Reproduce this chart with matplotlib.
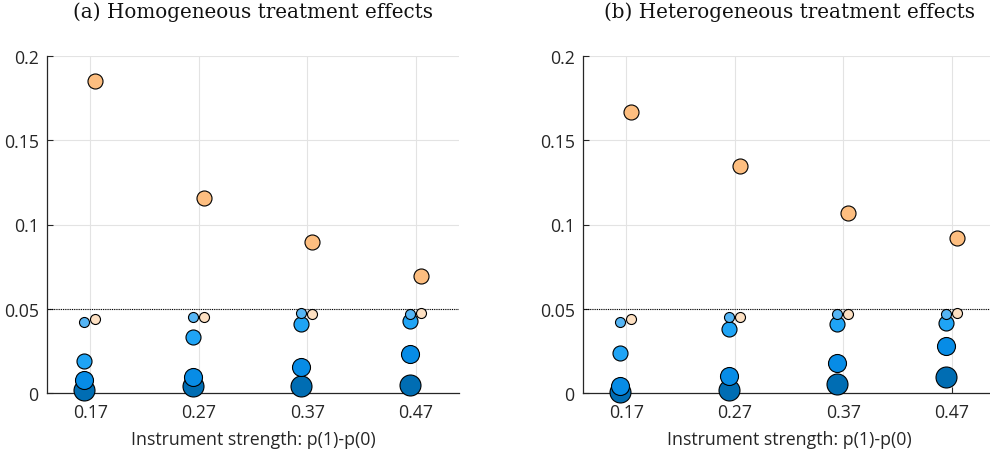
import numpy as np
import matplotlib.pyplot as plt

# instrument strength p(1)-p(0)
strength = [0.17, 0.27, 0.37, 0.47]
ytick_vals = [0, 0.05, 0.1, 0.15, 0.2]
ytick_labels = ["0", "0.05", "0.1", "0.15", "0.2"]

# panel (a) homogeneous effects, rejection rates per method
hom_dark = [0.002, 0.004, 0.0044, 0.0049]
hom_large = [0.0077, 0.0097, 0.0153, 0.0232]
hom_mid = [0.0189, 0.033, 0.0407, 0.043]
hom_small = [0.042, 0.0454, 0.0474, 0.0466]
hom_peach = [0.044, 0.045, 0.0466, 0.0476]
hom_orange = [0.185, 0.116, 0.0899, 0.0696]

# panel (b) heterogeneous effects
het_dark = [0.0004, 0.0018, 0.0054, 0.0097]
het_large = [0.0044, 0.0103, 0.0179, 0.0276]
het_mid = [0.024, 0.038, 0.041, 0.0415]
het_small = [0.042, 0.0454, 0.047, 0.047]
het_peach = [0.0439, 0.0454, 0.0466, 0.0476]
het_orange = [0.1667, 0.135, 0.107, 0.092]

titles = ["(a) Homogeneous treatment effects", "(b) Heterogeneous treatment effects"]
panels = [
    (hom_dark, hom_large, hom_mid, hom_small, hom_peach, hom_orange),
    (het_dark, het_large, het_mid, het_small, het_peach, het_orange),
]

plt.rcParams['font.family'] = ['Open Sans', 'DejaVu Sans']

fig = plt.figure(figsize=(9.9, 4.6), dpi=100)
axes = [fig.add_axes([47/990, 66/460, 412/990, 337/460]),
        fig.add_axes([583/990, 66/460, 412/990, 337/460])]

x = np.array(strength)
for ax, title, data in zip(axes, titles, panels):
    dark, large, mid, small, peach, orange = data
    xb = x - 0.0055
    xo = x + 0.0045
    kw = dict(edgecolors='black', linewidths=0.8, clip_on=False, zorder=3)
    ax.scatter(xb, dark, s=228, c='#006DB3', **kw)
    ax.scatter(xb, large, s=168, c='#078CE6', **kw)
    ax.scatter(xb, mid, s=117, c='#1FA4F5', **kw)
    ax.scatter(xb, small, s=52, c='#55B5F5', **kw)
    ax.scatter(xo, peach, s=52, c='#FDE0C2', **kw)
    ax.scatter(xo, orange, s=117, c='#FDBE80', **kw)

    ax.axhline(0.05, color='black', lw=0.8, ls=(0, (1, 1)), zorder=2)

    ax.set_xlim(0.13, 0.51)
    ax.set_ylim(0, 0.2)
    ax.set_xticks(strength)
    ax.set_xticklabels([f"{v:.2f}" for v in strength])
    ax.set_yticks(ytick_vals)
    ax.set_yticklabels(ytick_labels)
    ax.grid(True, color='#E3E3E3', lw=0.8, zorder=0)
    ax.set_axisbelow(True)
    for side in ['top', 'right']:
        ax.spines[side].set_visible(False)
    for side in ['left', 'bottom']:
        ax.spines[side].set_color('#262626')
        ax.spines[side].set_linewidth(0.9)
    ax.tick_params(direction='in', length=4, width=0.8, colors='#262626',
                   labelsize=12.8, labelcolor='#262626', pad=6)
    ax.tick_params(axis='x', pad=7)
    ax.set_xlabel("Instrument strength: p(1)-p(0)", fontsize=12.8, color='#262626', labelpad=7)
    ax.set_title(title, family='DejaVu Serif', fontsize=14.3, pad=28, color='#111111')

fig.savefig("out.png", dpi=100)
